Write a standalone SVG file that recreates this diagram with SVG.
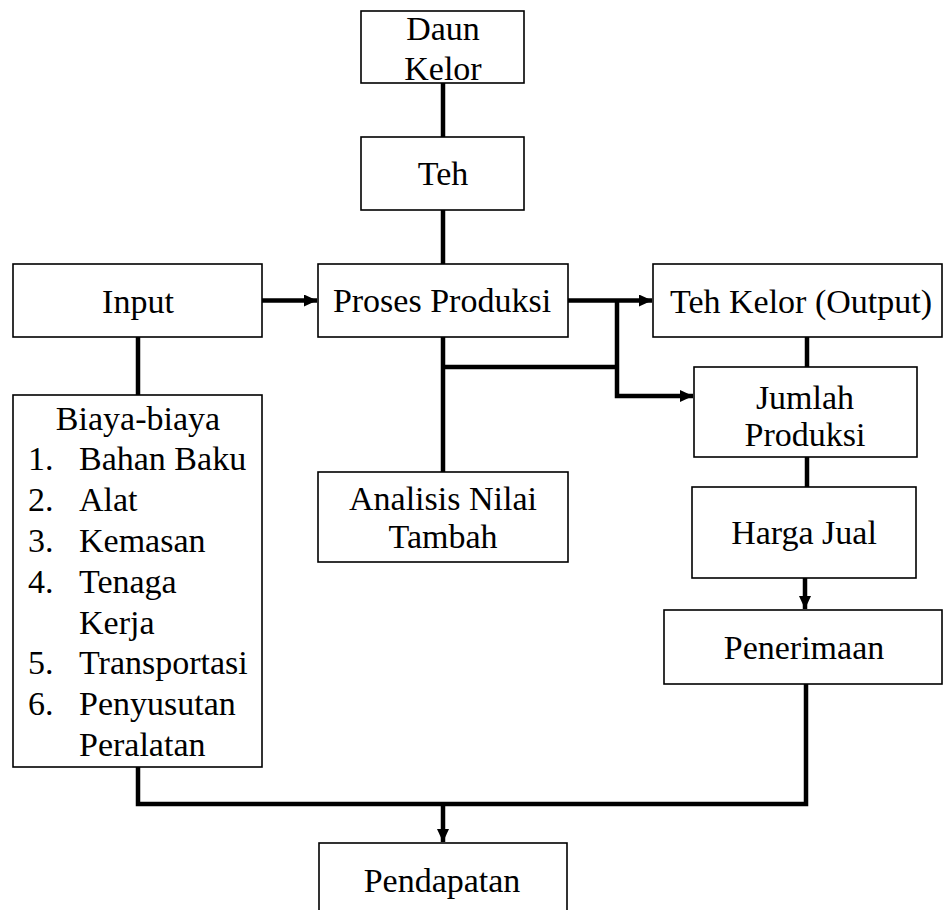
<svg xmlns="http://www.w3.org/2000/svg" width="944" height="910" viewBox="0 0 944 910">
<style>
.box{fill:#fff;stroke:#000;stroke-width:1.6}
.t{font-family:"Liberation Serif","Times New Roman",serif;font-size:34px;fill:#000}
.c{text-anchor:middle}
.ln{fill:none;stroke:#000;stroke-width:4.5}
</style>
<defs>
<marker id="ah" markerUnits="userSpaceOnUse" markerWidth="14" markerHeight="12" refX="13" refY="6" orient="auto">
<path d="M0,0 L13,6 L0,12 Z" fill="#000"/>
</marker>
</defs>
<rect width="944" height="910" fill="#fff"/>
<g id="connectors">
<line class="ln" x1="443" y1="83" x2="443" y2="137"/>
<line class="ln" x1="443" y1="210" x2="443" y2="264"/>
<line class="ln" x1="262" y1="300.5" x2="317" y2="300.5" marker-end="url(#ah)"/>
<line class="ln" x1="138" y1="337" x2="138" y2="395"/>
<line class="ln" x1="568" y1="300.5" x2="652" y2="300.5" marker-end="url(#ah)"/>
<polyline class="ln" points="617,300.5 617,396 693,396" marker-end="url(#ah)"/>
<line class="ln" x1="443" y1="337" x2="443" y2="472"/>
<line class="ln" x1="443" y1="367" x2="617" y2="367"/>
<line class="ln" x1="807" y1="337" x2="807" y2="367"/>
<line class="ln" x1="807" y1="457" x2="807" y2="487"/>
<line class="ln" x1="805" y1="578" x2="805" y2="609" marker-end="url(#ah)"/>
<polyline class="ln" points="138,767 138,804 806,804 806,684"/>
<line class="ln" x1="443" y1="804" x2="443" y2="842" marker-end="url(#ah)"/>
</g>
<g id="daun-kelor">
<rect class="box" x="361" y="11" width="163" height="72"/>
<text class="t c" x="443" y="40">Daun</text>
<text class="t c" x="443" y="80">Kelor</text>
</g>
<g id="teh">
<rect class="box" x="361" y="137" width="163" height="73"/>
<text class="t c" x="443" y="185">Teh</text>
</g>
<g id="input">
<rect class="box" x="13" y="264" width="249" height="73"/>
<text class="t c" x="138" y="313">Input</text>
</g>
<g id="proses-produksi">
<rect class="box" x="318" y="264" width="250" height="73"/>
<text class="t c" x="442" y="312">Proses Produksi</text>
</g>
<g id="teh-kelor-output">
<rect class="box" x="653" y="264" width="289" height="73"/>
<text class="t c" x="801" y="312.5">Teh Kelor (Output)</text>
</g>
<g id="biaya">
<rect class="box" x="13" y="395" width="249" height="372"/>
<text class="t c" x="138" y="429.5">Biaya-biaya</text>
<text class="t" x="28" y="470.3">1.</text><text class="t" x="79" y="470.3">Bahan Baku</text>
<text class="t" x="28" y="511.1">2.</text><text class="t" x="79" y="511.1">Alat</text>
<text class="t" x="28" y="551.9">3.</text><text class="t" x="79" y="551.9">Kemasan</text>
<text class="t" x="28" y="592.7">4.</text><text class="t" x="79" y="592.7">Tenaga</text>
<text class="t" x="79" y="633.5">Kerja</text>
<text class="t" x="28" y="674.3">5.</text><text class="t" x="79" y="674.3">Transportasi</text>
<text class="t" x="28" y="715.1">6.</text><text class="t" x="79" y="715.1">Penyusutan</text>
<text class="t" x="79" y="755.9">Peralatan</text>
</g>
<g id="jumlah-produksi">
<rect class="box" x="694" y="367" width="223" height="90"/>
<text class="t c" x="805" y="409">Jumlah</text>
<text class="t c" x="805" y="446">Produksi</text>
</g>
<g id="analisis-nilai-tambah">
<rect class="box" x="318" y="472" width="250" height="90"/>
<text class="t c" x="443" y="510">Analisis Nilai</text>
<text class="t c" x="443" y="548">Tambah</text>
</g>
<g id="harga-jual">
<rect class="box" x="692" y="487" width="224" height="91"/>
<text class="t c" x="804" y="544">Harga Jual</text>
</g>
<g id="penerimaan">
<rect class="box" x="664" y="610" width="278" height="74"/>
<text class="t c" x="804" y="659">Penerimaan</text>
</g>
<g id="pendapatan">
<rect class="box" x="319" y="843" width="248" height="80"/>
<text class="t c" x="442" y="892">Pendapatan</text>
</g>
</svg>
